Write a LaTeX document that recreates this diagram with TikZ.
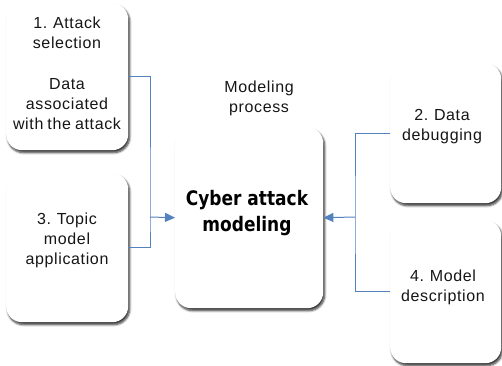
\documentclass[tikz,border=0pt]{standalone}
\usepackage{fontspec}
\setmainfont{Liberation Sans}[LetterSpace=4, WordSpace=0.8]
\newfontfamily\headfont{DejaVu Sans}[FakeStretch=0.85]
\usetikzlibrary{arrows.meta,shadows.blur}
\definecolor{linkblue}{RGB}{84,130,190}
\definecolor{inktext}{RGB}{22,22,22}
\tikzset{
  card/.style={rounded corners=16pt, fill=white, draw=none,
    anchor=north west, inner sep=0pt,
    blur shadow={shadow xshift=1.5pt, shadow yshift=-2.5pt, shadow blur steps=6,
      shadow blur extra rounding=1pt, shadow opacity=80}},
  lbl/.style={align=center, inner sep=0pt, text=inktext,
    font=\fontsize{16}{20}\selectfont},
  title/.style={align=center, inner sep=0pt, text=black,
    font=\headfont\bfseries\fontsize{20}{26}\selectfont},
  wire/.style={draw=linkblue, line width=1pt},
  feed/.style={wire, -{Triangle[length=10pt,width=9pt]}}
}
\begin{document}
\begin{tikzpicture}[x=1pt,y=-1pt]
\useasboundingbox (0,0) rectangle (502,365);

% stage boxes
\node[card, minimum width=122pt, minimum height=147pt] (b1) at (6,3) {};
\node[card, minimum width=122pt, minimum height=149pt] (b3) at (6,173) {};
\node[card, minimum width=148pt, minimum height=181pt] (c)  at (175,127) {};
\node[card, minimum width=111pt, minimum height=140pt] (b2) at (390,63) {};
\node[card, minimum width=111pt, minimum height=143pt] (b4) at (390,220) {};

% texts
\node[lbl] (t1a) at (67,33) {1. Attack\\selection};
\node[lbl] (t1b) at (67,104) {Data\\associated\\with the attack};
\node[lbl] (t3) at (67,240) {3. Topic\\model\\application};
\node[lbl] (t2) at (442,127) {2. Data\\debugging};
\node[lbl] (t4) at (443,287) {4. Model\\description};
\node[lbl] (tp) at (259,98) {Modeling\\process};
\node[title] (tc) at (247,213) {Cyber attack\\modeling};

% junctions
\coordinate (jl) at (150,217);
\coordinate (jr) at (355,217);

% connectors
\draw[wire] (b1.east) -| (jl) |- (b3.east);
\draw[feed] (jl) -- (c.west);
\draw[wire] (b2.west) -| (jr) |- (b4.west);
\draw[feed] (jr) -- (c.east);
\end{tikzpicture}
\end{document}
